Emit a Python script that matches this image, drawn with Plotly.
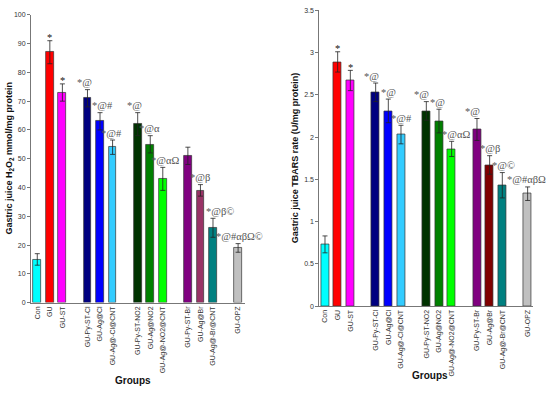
import plotly.graph_objects as go

# ---------------- data ----------------
slots = [0, 1, 2, 4, 5, 6, 8, 9, 10, 12, 13, 14, 16]
labels_left = ["Con", "GU", "GU-ST", "GU-Py-ST-Cl", "GU-Ag@Cl", "GU-Ag@-Cl@CNT",
               "GU-Py-ST-NO2", "GU-Ag@NO2", "GU-Ag@-NO2@CNT", "GU-Py-ST-Br",
               "GU-Ag@Br", "GU-Ag@-Br@CNT", "GU-OPZ"]
labels_right = ["Con", "GU", "GU-ST", "GU-Py-ST-Cl", "GU-Ag@Cl", "GU-Ag@-Cl@CNT",
                "GU-Py-ST-NO2", "GU-Ag@NO2", "GU-Ag@-NO2@CNT", "GU-Py-ST-Br",
                "GU-Ag@Br", "GU-Ag@-Br@CNT", "GU-OPZ"]

h2o2 = [15, 87, 73, 71, 63, 54, 62, 55, 43, 51, 39, 26, 19]
h2o2_err = [2, 4, 3, 3, 3, 2.5, 4, 3, 4, 3, 2, 3.3, 1.5]
h2o2_sig = ["", "*", "*", "*@", "*@#", "*@#", "*@", "*@α", "*@αΩ", "", "*@β", "*@β©", "*@#αβΩ©"]

tbars = [0.73, 2.89, 2.67, 2.53, 2.31, 2.03, 2.31, 2.19, 1.86, 2.09, 1.67, 1.43, 1.33]
tbars_err = [0.1, 0.12, 0.12, 0.11, 0.14, 0.11, 0.11, 0.14, 0.09, 0.13, 0.11, 0.15, 0.08]
tbars_sig = ["", "*", "*", "*@", "*@", "*@#", "*@", "*@", "*@αΩ", "*@", "*@β", "*@©", "*@#αβΩ"]

# ---------------- styles ----------------
colors_left = ["#00FFFF", "#FF0000", "#FF00FF", "#000080", "#0000FF", "#33CCFF",
               "#003300", "#008000", "#00FF00", "#800080", "#993366", "#008080", "#C0C0C0"]
colors_right = ["#00FFFF", "#FF0000", "#FF00FF", "#000080", "#0000FF", "#33CCFF",
                "#003300", "#008000", "#00FF00", "#800080", "#800000", "#008080", "#C0C0C0"]
xshift_left = [0, 0, 0, -3, 2, -1, -3, -1, 2, 0, 0, 7, 1]
xshift_right = [0, 0, 0, -4, 0, 1, -5, -1, 4, -4, 0, 1, -1]

fig = go.Figure()
err_style = dict(type="data", visible=True, color="#222222", thickness=0.8, width=2.5)

fig.add_trace(go.Bar(x=slots, y=h2o2, width=0.62, marker_color=colors_left,
                     marker_line=dict(color="#333333", width=0.7),
                     error_y=dict(array=h2o2_err, **err_style),
                     xaxis="x", yaxis="y", showlegend=False))
fig.add_trace(go.Bar(x=slots, y=tbars, width=0.62, marker_color=colors_right,
                     marker_line=dict(color="#333333", width=0.7),
                     error_y=dict(array=tbars_err, **err_style),
                     xaxis="x2", yaxis="y2", showlegend=False))

ann = []
def add_sig(xs, vals, errs, sigs, shifts, xref, yref):
    for x, v, e, s, sh in zip(xs, vals, errs, sigs, shifts):
        if not s:
            continue
        ann.append(dict(x=x, y=v + e, xref=xref, yref=yref, text=s, showarrow=False,
                        xanchor="center", yanchor="middle", xshift=sh,
                        yshift=3 if s == "*" else 7,
                        font=dict(family="Liberation Serif", size=10.5,
                                  color="#111111" if s == "*" else "#555555")))

add_sig(slots, h2o2, h2o2_err, h2o2_sig, xshift_left, "x", "y")
add_sig(slots, tbars, tbars_err, tbars_sig, xshift_right, "x2", "y2")

title_font = dict(family="Liberation Sans", size=9, color="#111111")
ann.append(dict(x=9.3 / 550, y=1 - 157 / 395, xref="paper", yref="paper", textangle=-90,
                text="<b>Gastric juice H<sub>2</sub>O<sub>2</sub> mmol/mg protein</b>",
                showarrow=False, xanchor="center", yanchor="middle", font=title_font))
ann.append(dict(x=295 / 550, y=1 - 157 / 395, xref="paper", yref="paper", textangle=-90,
                text="<b>Gastric juice TBARS rate (U/mg protein)</b>",
                showarrow=False, xanchor="center", yanchor="middle", font=title_font))
ann.append(dict(x=133 / 550, y=1 - 383 / 395, xref="paper", yref="paper",
                text="<b>Groups</b>", showarrow=False, xanchor="center", yanchor="middle",
                font=dict(family="Liberation Sans", size=10, color="#111111")))
ann.append(dict(x=430 / 550, y=1 - 378 / 395, xref="paper", yref="paper",
                text="<b>Groups</b>", showarrow=False, xanchor="center", yanchor="middle",
                font=dict(family="Liberation Sans", size=10, color="#111111")))

tick_font = dict(family="Liberation Sans", size=7, color="#333333")
xcommon = dict(tickmode="array", tickvals=slots, tickangle=-90, showline=True,
               linecolor="#777777", linewidth=1, ticks="", showgrid=False,
               zeroline=False, tickfont=tick_font, fixedrange=True)
ycommon = dict(showline=True, linecolor="#777777", linewidth=1, ticks="outside",
               ticklen=3, tickcolor="#777777", showgrid=False, zeroline=False,
               tickfont=tick_font, fixedrange=True)

fig.update_layout(
    width=550, height=395, autosize=False,
    margin=dict(l=0, r=0, t=0, b=0),
    paper_bgcolor="white", plot_bgcolor="white",
    xaxis=dict(domain=[31 / 550, 245 / 550], range=[-0.5, 16.55], ticktext=labels_left,
               anchor="y", **xcommon),
    yaxis=dict(domain=[1 - 304 / 395, 1 - 11 / 395], range=[0, 100], dtick=10,
               anchor="x", **ycommon),
    xaxis2=dict(domain=[319.3 / 550, 532.7 / 550], range=[-0.45, 16.4], ticktext=labels_right,
                anchor="y2", **xcommon),
    yaxis2=dict(domain=[1 - 307.5 / 395, 1 - 6.5 / 395], range=[0, 3.5], dtick=0.5,
                anchor="x2", **ycommon),
    annotations=ann,
    bargap=0,
)

fig.write_html("out.html", config={"displayModeBar": False},
               post_script="document.body.style.margin='0';document.body.style.overflow='hidden';")
